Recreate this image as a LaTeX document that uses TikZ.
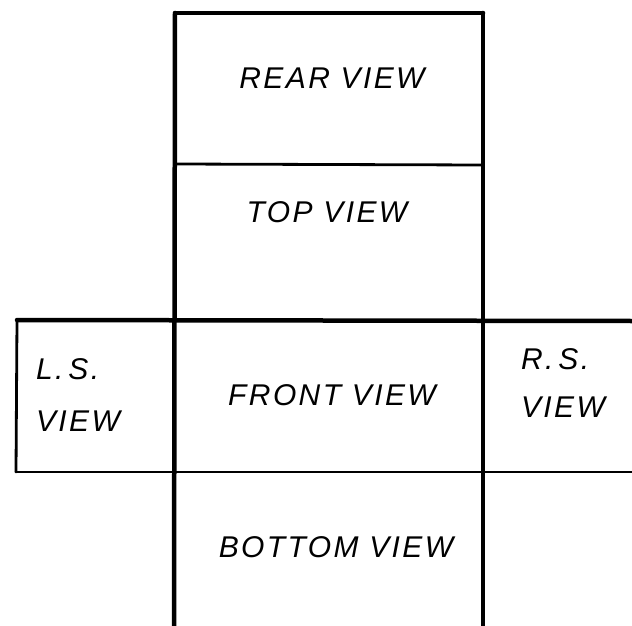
\documentclass[tikz,border=0pt]{standalone}
\usepackage{fontspec}
\setmainfont{Liberation Sans}[LetterSpace=8]
\begin{document}
\begin{tikzpicture}[x=1pt,y=-1pt,
  thick line/.style={line width=4.5pt,line cap=round},
  thin line/.style={line width=2.8pt,line cap=round},
  lbl/.style={font=\itshape\fontsize{30}{36}\selectfont,align=left,inner sep=0pt}]
\useasboundingbox[fill=white] (0,0) rectangle (632,626);
% central column
\draw[thick line] (175,13) -- (483,13);
\draw[thick line] (175,13) -- (174,626);
\draw[thick line] (483,13) -- (483,626);
\draw[thin line] (175,164) -- (483,165);
\draw[thick line] (17,320) -- (632,321);
\draw[thin line] (16,472) -- (632,472);
% left box
\draw[thin line] (17,320) -- (16,472);
% labels
\node[lbl] (rear) at (332,78) {REAR VIEW};
\node[lbl] (top) at (327,212) {TOP VIEW};
\node[lbl] (front) at (332,395) {FRONT VIEW};
\node[lbl] (bottom) at (336,547) {BOTTOM VIEW};
\node[lbl] (ls) at (78,395) {L.\,S.\\[16pt]VIEW};
\node[lbl] (rs) at (563,383) {R.\,S.\\[12pt]VIEW};
\end{tikzpicture}
\end{document}
